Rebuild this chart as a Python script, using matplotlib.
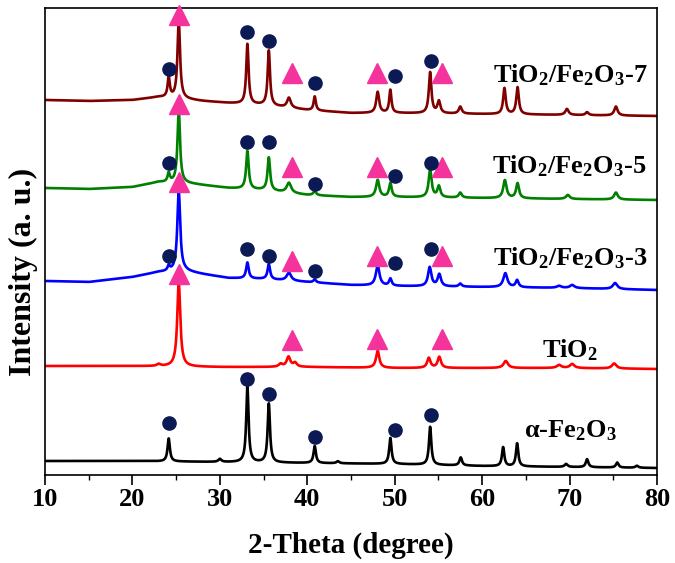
import numpy as np
import matplotlib
matplotlib.use("Agg")
import matplotlib.pyplot as plt
from matplotlib.ticker import MultipleLocator

plt.rcParams['font.family'] = ['Liberation Serif', 'DejaVu Serif']
plt.rcParams['font.weight'] = 'bold'
plt.rcParams['mathtext.fontset'] = 'custom'
plt.rcParams['mathtext.rm'] = 'Liberation Serif:bold'
plt.rcParams['mathtext.bf'] = 'Liberation Serif:bold'
plt.rcParams['mathtext.it'] = 'Liberation Serif:italic:bold'

# ---------------- data ----------------
two_theta = np.linspace(10, 80, 3500)

# baseline anchors (2-theta, level) for each pattern
fe_base_x = [10, 20, 30, 40, 50, 60, 70, 80]
fe_base_y = [14, 14, 13, 12, 11, 9, 8, 7]
fe_peak_pos = [24.15, 30.0, 33.15, 35.6, 40.85, 43.5, 49.5, 54.05, 57.55, 62.4, 64.0, 69.6, 72.0, 75.45, 77.7]
fe_peak_h   = [23, 3, 76, 59, 17, 2, 26, 38, 8, 19, 23, 3, 8, 5, 2]
fe_peak_w   = [0.32, 0.4, 0.32, 0.32, 0.32, 0.4, 0.32, 0.32, 0.35, 0.32, 0.32, 0.4, 0.35, 0.35, 0.4]

ti_base_x = [10, 20, 30, 40, 50, 60, 70, 80]
ti_base_y = [109, 109, 108, 108, 107, 107, 107, 106]
ti_peak_pos = [23.0, 25.3, 36.95, 37.85, 38.6, 48.05, 53.9, 55.1, 62.7, 68.8, 70.3, 75.1]
ti_peak_h   = [2, 84, 3, 10, 4, 17, 10, 11, 7, 3, 4, 5]
ti_peak_w   = [0.5, 0.42, 0.5, 0.5, 0.5, 0.45, 0.45, 0.45, 0.6, 0.6, 0.6, 0.6]

c3_base_x = [10, 15, 20, 23, 26, 28, 31, 35, 40, 45, 50, 60, 70, 80]
c3_base_y = [194, 193, 198, 203, 204, 201, 197, 196, 193, 190, 189, 188, 187, 185]
c3_peak_pos = [24.15, 25.3, 33.15, 35.6, 37.9, 40.85, 48.05, 49.5, 54.0, 55.1, 57.5, 62.65, 64.0, 68.8, 70.3, 75.2]
c3_peak_h   = [5, 80, 16, 15, 8, 3, 20, 7, 19, 12, 3, 14, 7, 2, 3, 6]
c3_peak_w   = [0.3, 0.4, 0.35, 0.35, 0.6, 0.35, 0.5, 0.35, 0.45, 0.45, 0.4, 0.55, 0.4, 0.6, 0.6, 0.6]

c5_base_x = [10, 15, 20, 23, 26, 28, 31, 35, 40, 45, 50, 60, 70, 80]
c5_base_y = [287, 286, 288, 293, 292, 290, 287, 285, 280, 278, 278, 277, 276, 275]
c5_peak_pos = [24.15, 25.3, 33.15, 35.6, 37.9, 40.85, 48.05, 49.5, 54.05, 55.05, 57.5, 62.6, 64.05, 69.8, 75.3]
c5_peak_h   = [9, 73, 38, 33, 10, 4, 17, 14, 28, 11, 5, 18, 15, 4, 7]
c5_peak_w   = [0.3, 0.35, 0.35, 0.35, 0.6, 0.4, 0.45, 0.35, 0.4, 0.4, 0.4, 0.45, 0.4, 0.5, 0.5]

c7_base_x = [10, 15, 20, 23, 26, 28, 31, 35, 40, 45, 50, 60, 70, 80]
c7_base_y = [375, 374, 375, 378, 376, 374, 372, 370, 365, 362, 362, 361, 360, 359]
c7_peak_pos = [24.15, 25.3, 33.15, 35.6, 37.9, 40.85, 48.05, 49.5, 54.05, 55.05, 57.5, 62.55, 64.05, 69.7, 72.0, 75.3]
c7_peak_h   = [20, 78, 60, 55, 10, 14, 21, 23, 41, 12, 7, 26, 27, 6, 3, 9]
c7_peak_w   = [0.3, 0.35, 0.32, 0.32, 0.5, 0.3, 0.4, 0.3, 0.35, 0.4, 0.4, 0.35, 0.35, 0.45, 0.4, 0.45]

# phase markers: anatase TiO2 (triangles) and hematite Fe2O3 (circles)
tri_x = [25.3, 38.3, 48.0, 55.4,
         25.3, 38.3, 48.0, 55.4,
         25.3, 38.3, 48.0, 55.4,
         25.3, 38.3, 48.0, 55.4]
tri_y = [460, 402, 402, 402,
         371, 308, 308, 308,
         293, 214, 219, 219,
         201, 135, 136, 136]
dot_x = [24.15, 33.15, 35.6, 40.9, 50.0, 54.1,
         24.15, 33.15, 35.6, 40.9, 50.0, 54.1,
         24.15, 33.15, 35.6, 40.9, 50.0, 54.1,
         24.15, 33.15, 35.6, 40.9, 50.0, 54.1]
dot_y = [406, 443, 434, 392, 399, 414,
         312, 333, 333, 291, 299, 312,
         219, 226, 219, 204, 212, 226,
         52, 96, 81, 38, 45, 60]

labels = [r'TiO$_2$/Fe$_2$O$_3$-7', r'TiO$_2$/Fe$_2$O$_3$-5', r'TiO$_2$/Fe$_2$O$_3$-3',
          r'TiO$_2$', r'α-Fe$_2$O$_3$']
label_x = [61.2, 61.1, 61.2, 66.85, 64.8]
label_y = [393, 302, 210, 118, 38]

colors = ['#800000', '#008000', '#0000ff', '#ff0000', '#000000']
xticks = [10, 20, 30, 40, 50, 60, 70, 80]


def pattern(bx, by, pos, h, w):
    y = np.interp(two_theta, bx, by)
    for p, hh, ww in zip(pos, h, w):
        y = y + hh / (1.0 + ((two_theta - p) / (ww / 2.0)) ** 2)
    return y


series = [
    (c7_base_x, c7_base_y, c7_peak_pos, c7_peak_h, c7_peak_w),
    (c5_base_x, c5_base_y, c5_peak_pos, c5_peak_h, c5_peak_w),
    (c3_base_x, c3_base_y, c3_peak_pos, c3_peak_h, c3_peak_w),
    (ti_base_x, ti_base_y, ti_peak_pos, ti_peak_h, ti_peak_w),
    (fe_base_x, fe_base_y, fe_peak_pos, fe_peak_h, fe_peak_w),
]

fig = plt.figure(figsize=(6.75, 5.63), dpi=100)
ax = fig.add_axes([45 / 675, 1 - 475 / 563, 612 / 675, 467 / 563])

for (bx, by, pos, h, w), col in zip(series, colors):
    ax.plot(two_theta, pattern(bx, by, pos, h, w), color=col, lw=1.9)

ax.plot(tri_x, tri_y, linestyle='none', marker='^', ms=15, color='#f5339c',
        mec='#f5339c', clip_on=False, zorder=5)
ax.plot(dot_x, dot_y, linestyle='none', marker='o', ms=9.5, color='#0b1a55',
        mec='#0b1a55', clip_on=False, zorder=5)

for t, lx, ly in zip(labels, label_x, label_y):
    ax.text(lx, ly, t, fontsize=19, fontweight='bold', ha='left', va='baseline')

ax.set_xlim(10, 80)
ax.set_ylim(0, 467)
ax.set_xticks(xticks)
ax.set_xticklabels([str(v) for v in xticks])
ax.xaxis.set_minor_locator(MultipleLocator(5))
ax.tick_params(axis='x', which='major', direction='out', length=7, width=1.2,
               labelsize=19, pad=2)
ax.tick_params(axis='x', which='minor', direction='out', length=3.5, width=1.0)
ax.tick_params(axis='y', which='both', left=False, labelleft=False)
for s in ax.spines.values():
    s.set_linewidth(1.2)

ax.set_xlabel('2-Theta (degree)', fontsize=21, fontweight='bold')
ax.xaxis.set_label_coords(0.5, -0.122)
ax.set_ylabel('Intensity (a. u.)', fontsize=23, fontweight='bold')
ax.yaxis.set_label_coords(-0.012, 0.435)

fig.savefig('out.png', dpi=100)
